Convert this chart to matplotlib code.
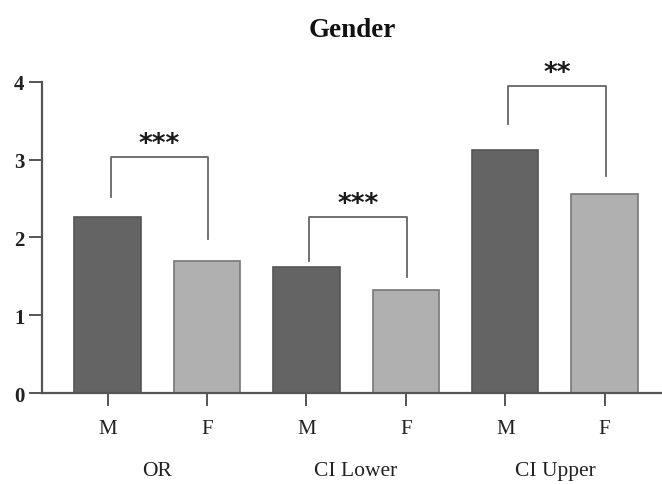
import matplotlib
matplotlib.use("Agg")
import matplotlib.pyplot as plt

groups = ["OR", "CI Lower", "CI Upper"]
sexes = ["M", "F"]
male_values = [2.26, 1.62, 3.13]
female_values = [1.70, 1.32, 2.56]
stars = ["***", "***", "**"]
bracket_tops = [3.04, 2.26, 3.95]
bracket_left_bottoms = [2.52, 1.70, 3.46]
bracket_right_bottoms = [1.98, 1.49, 2.79]
yticks = [0, 1, 2, 3, 4]

plt.rcParams['font.family'] = ['Liberation Serif', 'DejaVu Serif']

fig = plt.figure(figsize=(6.62, 4.85), dpi=100)
ax = fig.add_axes([0.0634, 0.1876, 0.94, 0.6413])

m_color = "#646464"
f_color = "#b0b0b0"
edge = "#555555"

xs_m = [2 * i for i in range(3)]
xs_f = [2 * i + 1 for i in range(3)]
ax.bar(xs_m, male_values, width=0.667, color=m_color, edgecolor=edge, linewidth=1.2, zorder=2)
ax.bar(xs_f, female_values, width=0.667, color=f_color, edgecolor="#777777", linewidth=1.2, zorder=2)

for i in range(3):
    xl, xr = xs_m[i] + 0.03, xs_f[i] + 0.01
    ax.plot([xl, xl, xr, xr],
            [bracket_left_bottoms[i], bracket_tops[i], bracket_tops[i], bracket_right_bottoms[i]],
            color="#666666", linewidth=1.3, zorder=3, clip_on=False)
    ax.text((xl + xr) / 2, bracket_tops[i] + 0.0, stars[i], ha="center", va="bottom",
            fontsize=19, fontweight="bold", color="#1a1a1a", family="DejaVu Sans")

ax.set_xlim(-0.66, 5.6)
ax.set_ylim(0, 4)
ax.set_yticks(yticks)
ax.set_yticklabels([str(t) for t in yticks], fontsize=15, fontweight="bold", color="#222222")
ax.set_xticks(xs_m + xs_f)
ax.set_xticklabels(sexes[:1] * 3 + sexes[1:] * 3, fontsize=15, color="#222222")

for spine in ["top", "right"]:
    ax.spines[spine].set_visible(False)
for spine in ["left", "bottom"]:
    ax.spines[spine].set_color("#555555")
    ax.spines[spine].set_linewidth(1.6)
ax.tick_params(axis="both", direction="out", length=9.5, width=1.4, color="#555555")
ax.tick_params(axis="x", pad=9)
ax.tick_params(axis="y", pad=3)

for i, g in enumerate(groups):
    ax.text((xs_m[i] + xs_f[i]) / 2, -1.0, g, ha="center", va="center", fontsize=15.5,
            color="#222222", transform=ax.transData)

fig.text(0.532, 0.937, "Gender", ha="center", va="center", fontsize=19.5, fontweight="bold", color="#111111")

fig.savefig("out.png", dpi=100)
